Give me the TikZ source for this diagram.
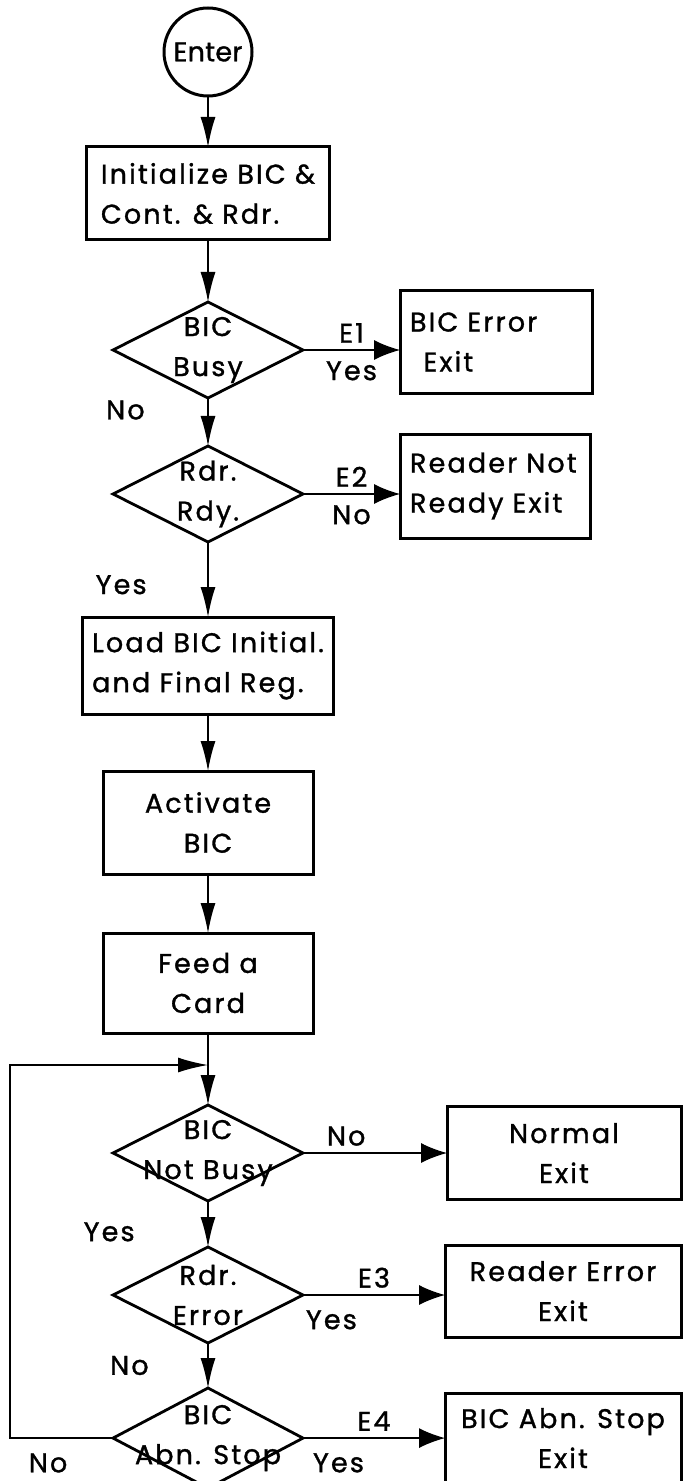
\documentclass[tikz,border=0pt]{standalone}
\usepackage{fontspec}
\setmainfont{Poppins}[LetterSpace=8,FakeBold=1.2]
\usetikzlibrary{arrows.meta,positioning,shapes.geometric}

\begin{document}
\begin{tikzpicture}[
  node distance=24pt and 48pt,
  every node/.style={font=\fontsize{13.5pt}{20pt}\selectfont},
  term/.style={draw,circle,line width=1.5pt,minimum size=44pt,inner sep=0pt,outer sep=0pt},
  box/.style={draw,line width=1.5pt,align=left,inner xsep=5pt,outer sep=0pt},
  dec/.style={draw,diamond,line width=1.4pt,minimum width=95pt,minimum height=48pt,inner sep=-14pt,outer sep=0pt,align=center},
  arr/.style={-{Latex[length=15pt,width=7.5pt]},line width=0.7pt},
  exarr/.style={-{Latex[length=13pt,width=10pt]},line width=0.6pt}
]
\useasboundingbox (0,0) rectangle (342pt,-740.5pt);
\node[term] (enter) at (104pt,-26pt) {\addfontfeature{LetterSpace=1}Enter};
\node[box,minimum width=121.5pt,minimum height=46.5pt,below=25.5pt of enter] (init) {Initialize BIC \&\\Cont. \& Rdr.};
\node[dec,below=31pt of init] (busy) {BIC\\Busy};
\node[dec,below=24pt of busy] (rdy) {Rdr.\\Rdy.};
\node[box,minimum width=119pt,minimum height=48.5pt,below=37.5pt of rdy] (load) {Load BIC Initial.\\and Final Reg.};
\node[box,minimum width=105pt,minimum height=51.5pt,below=28.5pt of load,align=center] (act) {Activate\\BIC};
\node[box,minimum width=105pt,minimum height=50pt,below=29.5pt of act,align=center] (feed) {Feed a\\Card};
\node[dec,below=36pt of feed] (nbusy) {BIC\\Not Busy};
\node[dec,below=23pt of nbusy] (rerr) {Rdr.\\Error};
\node[dec,below=22.5pt of rerr] (abn) {BIC\\Abn. Stop};
\node[box,text width=86pt,minimum height=51pt,right=48.5pt of busy,yshift=4pt] (e1) {BIC Error\\\hspace*{0.5em}Exit};
\node[box,text width=85pt,minimum height=52pt,right=48.5pt of rdy,yshift=4pt] (e2) {Reader Not\\Ready Exit};
\node[box,minimum width=117pt,minimum height=46.5pt,right=72pt of nbusy,align=center] (e3) {Normal\\Exit};
\node[box,minimum width=118pt,minimum height=46pt,right=71pt of rerr,yshift=2pt,align=center] (e4) {Reader Error\\Exit};
\node[box,minimum width=118pt,minimum height=45pt,right=71pt of abn,align=center] (e5) {BIC Abn. Stop\\Exit};
\coordinate[below=16pt of feed.south] (back);
\draw[arr] (enter) -- (init);
\draw[arr] (init) -- (busy);
\draw[arr] (busy) -- node[pos=.25,left=28pt]{No} (rdy);
\draw[arr] (rdy) -- node[pos=.57,left=27pt]{Yes} (load);
\draw[arr] (load) -- (act);
\draw[arr] (act) -- (feed);
\draw[arr] (feed) -- (nbusy);
\draw[arr] (nbusy) -- node[pos=.67,left=33pt]{Yes} (rerr);
\draw[arr] (rerr) -- node[pos=.5,left=26pt]{No} (abn);
\draw[exarr] (busy.east) -- node[above]{E1} node[below=2pt]{Yes} (busy.east -| e1.west);
\draw[exarr] (rdy.east) -- node[above]{E2} node[below=2pt]{No} (rdy.east -| e2.west);
\draw[exarr] (nbusy.east) -- node[pos=.3,above]{No} (nbusy.east -| e3.west);
\draw[exarr] (rerr.east) -- node[above]{E3} node[pos=.2,below=4pt]{Yes} (rerr.east -| e4.west);
\draw[exarr] (abn.east) -- node[above]{E4} node[pos=.25,below=4pt]{Yes} (abn.east -| e5.west);
\draw[arr] (abn.west) -- node[pos=.63,below=4pt]{No} ++(-51.5pt,0) |- (back);
\end{tikzpicture}
\end{document}
